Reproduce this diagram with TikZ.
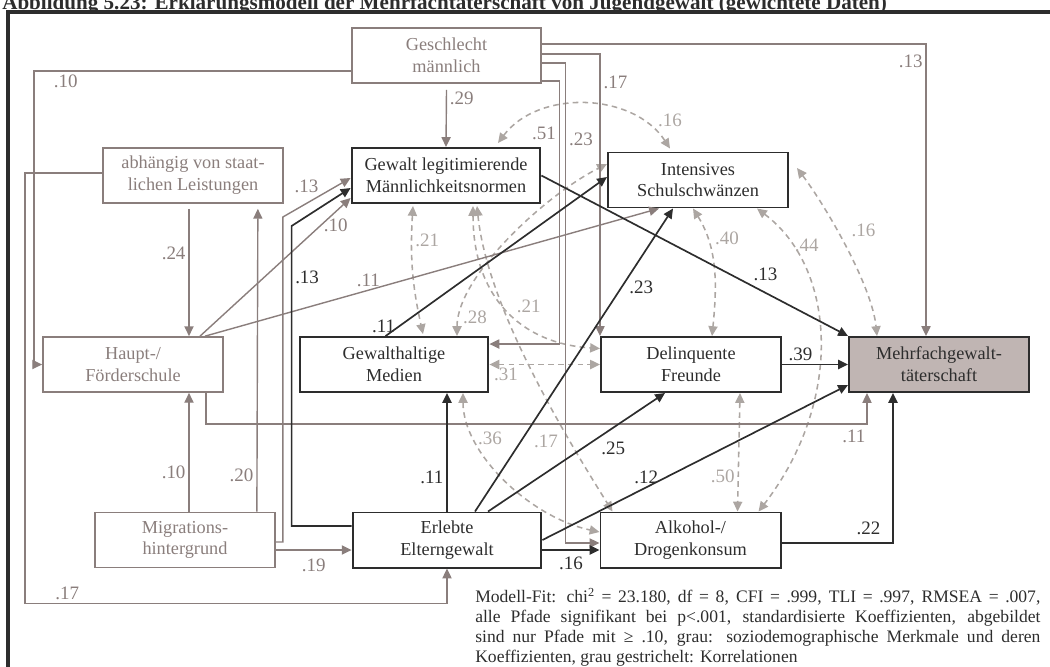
\documentclass[tikz,border=0pt]{standalone}
\usepackage{fontspec}
\setmainfont{Liberation Serif}
\usepackage{xcolor}
\usetikzlibrary{arrows.meta,calc}

\definecolor{sdgrey}{RGB}{138,126,124}
\definecolor{corrgrey}{RGB}{172,166,162}
\definecolor{pathdark}{RGB}{45,45,45}
\definecolor{outfill}{RGB}{192,181,179}
\newcommand{\fitline}[1]{\makebox[14.125cm][s]{#1}}

\begin{document}
\begin{tikzpicture}[
        x=0.025cm, y=-0.025cm,
        >={Triangle[length=7pt,width=6.5pt]},
        every node/.style={font=\fontsize{13}{15.5}\selectfont, align=center},
        sdbox/.style={draw=sdgrey, text=sdgrey, line width=1.2pt, minimum width=4.5cm, minimum height=1.375cm, inner sep=2pt},
        varbox/.style={draw=pathdark, text=pathdark, line width=1.4pt, minimum width=4.5cm, minimum height=1.375cm, inner sep=2pt},
        wide/.style={minimum width=4.72cm},
        sdpath/.style={->, draw=sdgrey, line width=1pt},
        effect/.style={->, draw=pathdark, line width=1.2pt},
        corr/.style={<->, draw=corrgrey, line width=1.1pt, dash pattern=on 4pt off 3pt},
        sdcoef/.style={text=sdgrey, font=\fontsize{13.5}{16}\selectfont, inner sep=2pt},
        coef/.style={text=pathdark, font=\fontsize{13.5}{16}\selectfont, inner sep=2pt},
        corrcoef/.style={text=corrgrey, font=\fontsize{13.5}{16}\selectfont, inner sep=2pt}
    ]
    \useasboundingbox (0,0) rectangle (1050,666);
    \clip (0,0) rectangle (1050,666);

    \node[anchor=base west, inner sep=0, text=pathdark, font=\bfseries\fontsize{15}{18}\selectfont] (title) at (2,9) {Abbildung 5.23: Erklärungsmodell der Mehrfachtäterschaft von Jugendgewalt (gewichtete Daten)};
    \draw[line width=2.8pt, draw=pathdark] (8,12) rectangle (1062,680);

    \node[sdbox, wide] (gesch)  at (446.5,55.5) {Geschlecht\\männlich};
    \node[sdbox]       (abh)    at (193,175.5)  {abhängig von staat-\\lichen Leistungen};
    \node[varbox, wide] (gewleg) at (446,175.5) {Gewalt legitimierende\\Männlichkeitsnormen};
    \node[varbox]      (schul)  at (698,180)    {Intensives\\Schulschwänzen};
    \node[sdbox]       (haupt)  at (133,364.5)  {Haupt-/\\Förderschule};
    \node[varbox, wide] (medien) at (394,364.5) {Gewalthaltige\\Medien};
    \node[varbox]      (delinq) at (691,364.5)  {Delinquente\\Freunde};
    \node[varbox, fill=outfill] (mehr) at (939,364.5) {Mehrfachgewalt-\\täterschaft};
    \node[sdbox]       (migr)   at (185,540)    {Migrations-\\hintergrund};
    \node[varbox, wide] (eltern) at (447,540)   {Erlebte\\Elterngewalt};
    \node[varbox]      (alk)    at (690.5,540)  {Alkohol-/\\Drogenkonsum};

    \draw[corr] ($(gewleg.north)+(52,-4)$) to[bend left=55] node[corrcoef, pos=0.88, above right] {.16} ($(schul.north)+(-28,-3)$);
    \draw[corr] ($(gewleg.south)+(-33,2)$) to[bend right=8] node[corrcoef, pos=0.25, right] {.21} ($(medien.north)+(29,-2)$);
    \draw[corr] ($(gewleg.south)+(27,2)$) .. controls +(0,90) and +(-80,-5) .. node[corrcoef, pos=0.55, above right] {.21} ($(delinq.west)+(0,-16)$);
    \draw[corr] ($(gewleg.south)+(31,2)$) .. controls +(10,100) and +(-50,-80) .. node[corrcoef, pos=0.74, left=6pt] {.17} ($(alk.north west)+(13,0)$);
    \draw[corr] ($(medien.north)+(63,0)$) .. controls +(0,-60) and +(-60,30) .. node[corrcoef, pos=0.1, right] {.28} ($(schul.west)+(0,-16)$);
    \draw[corr] (medien.east) -- node[corrcoef, pos=0.15, below] {.31} (delinq.west);
    \draw[corr] ($(medien.south)+(69,0)$) .. controls +(0,60) and +(-70,-15) .. node[corrcoef, pos=0.25, right] {.36} ($(alk.west)+(0,-8)$);
    \draw[corr] ($(schul.south)+(-5,0)$) .. controls +(25,40) and +(5,-50) .. node[corrcoef, pos=0.25, right=3pt] {.40} ($(delinq.north)+(21,0)$);
    \draw[corr] ($(schul.south)+(59,0)$) .. controls +(80,60) and +(85,-110) .. node[corrcoef, pos=0.17, right] {.44} ($(alk.north)+(68,0)$);
    \draw[corr] ($(schul.east)+(8,-12)$) .. controls +(30,40) and +(-5,-50) .. node[corrcoef, pos=0.4, right=8pt] {.16} ($(mehr.north west)+(29,0)$);
    \draw[corr] ($(delinq.south)+(49,0)$) -- node[corrcoef, pos=0.7, left] {.50} ($(alk.north)+(47,0)$);

    \draw[sdpath] ($(gesch.south)+(0,6)$) -- node[sdcoef, pos=0.15, right] {.29} (gewleg.north);
    \draw[sdpath] ($(gesch.west)+(0,15.5)$) -| node[sdcoef, pos=0.45, below] {.10} ($(haupt.west)+(-8,0)$) -- (haupt.west);
    \draw[sdpath] ($(gesch.north east)+(0,17)$) -| node[sdcoef, pos=0.53, left] {.13} ($(mehr.north west)+(78,0)$);
    \draw[sdpath] ($(gesch.east)+(0,-1.5)$) -| node[sdcoef, pos=0.55, right] {.17} (delinq.north west);
    \draw[sdpath] ($(gesch.east)+(0,7.5)$) -| node[sdcoef, pos=0.58, right] {.23} ($(alk.west)+(-34,3)$) -- ($(alk.west)+(0,3)$);
    \draw[sdpath] ($(gesch.south east)+(0,-3)$) -| node[sdcoef, pos=0.6, left] {.51} ($(medien.north east)+(70,8)$) -- ($(medien.north east)+(0,8)$);
    \draw[sdpath] ($(abh.south)+(-4,5)$) -- node[sdcoef, pos=0.35, left] {.24} ($(haupt.north)+(56,0)$);
    \draw[sdpath] ($(abh.west)+(0,-2.5)$) -- ++(-77,0) |- node[sdcoef, pos=0.55, above] {.17} ($(eltern.south)+(0,35)$) -- (eltern.south);
    \draw[sdpath] ($(migr.north)+(4,0)$) -- node[sdcoef, pos=0.33, left] {.10} ($(haupt.south)+(56,0)$);
    \draw[sdpath] ($(migr.north east)+(-19,0)$) -- node[sdcoef, pos=0.12, left] {.20} ($(abh.south east)+(-26,5)$);
    \draw[sdpath] ($(migr.east)+(0,2)$) -- ++(7,0) -- ++(0,-325) -- node[sdcoef, pos=0.35, above=5pt] {.13} ($(gewleg.west)+(0,2.5)$);
    \draw[sdpath] ($(migr.east)+(0,10)$) -- node[sdcoef, below=4pt] {.19} ($(eltern.west)+(0,10)$);
    \draw[sdpath] ($(haupt.north)+(67,0)$) -- node[sdcoef, pos=0.8, right] {.10} ($(gewleg.west)+(0,22.5)$);
    \draw[sdpath] ($(haupt.north)+(72,0)$) -- node[sdcoef, pos=0.36, above] {.11} ($(schul.south west)+(52,0)$);
    \draw[sdpath] ($(haupt.south)+(73,0)$) -- ++(0,31) -| node[sdcoef, pos=0.49, below=2pt] {.11} ($(mehr.south west)+(19,0)$);

    \draw[effect] (gewleg.east) -- node[coef, pos=0.68, above right] {.13} (mehr.north west);
    \draw[effect] ($(medien.north west)+(87,0)$) -- node[coef, pos=0.06, left] {.11} ($(schul.west)+(0,-3)$);
    \draw[effect] ($(eltern.west)+(0,-14)$) -- ++(-60,0) -- node[coef, pos=0.83, right] {.13} ++(0,-300) -- ($(gewleg.west)+(0,12.5)$);
    \draw[effect] (eltern.north) -- node[coef, pos=0.29, left] {.11} (eltern.north |- medien.south);
    \draw[effect] ($(eltern.north)+(28,0)$) -- node[coef, pos=0.74, right=3pt] {.23} ($(schul.south)+(-25,0)$);
    \draw[effect] ($(eltern.north)+(41,0)$) -- node[coef, pos=0.62, below right] {.25} ($(delinq.south)+(-26,0)$);
    \draw[effect] (eltern.east) -- node[coef, pos=0.34, above] {.12} ($(mehr.south west)+(0,-8)$);
    \draw[effect] ($(eltern.east)+(0,10)$) -- node[coef, below=2pt] {.16} ($(alk.west)+(0,10)$);
    \draw[effect] (delinq.east) -- node[coef, pos=0.28, above] {.39} (mehr.west);
    \draw[effect] ($(alk.east)+(0,3)$) -| node[coef, pos=0.39, above=3pt] {.22} ($(mehr.south west)+(45,0)$);

    \node[anchor=north west, inner sep=0, align=left, text=pathdark, font=\fontsize{12.5}{14.2}\selectfont] (fit) at (475,588) {\fitline{Modell-Fit: chi\textsuperscript{2} = 23.180, df = 8, CFI = .999, TLI = .997, RMSEA = .007,}\\\fitline{alle Pfade signifikant bei p<.001, standardisierte Koeffizienten, abgebildet}\\\fitline{sind nur Pfade mit ≥ .10, grau: soziodemographische Merkmale und deren}\\Koeffizienten, grau gestrichelt: Korrelationen};
\end{tikzpicture}
\end{document}
